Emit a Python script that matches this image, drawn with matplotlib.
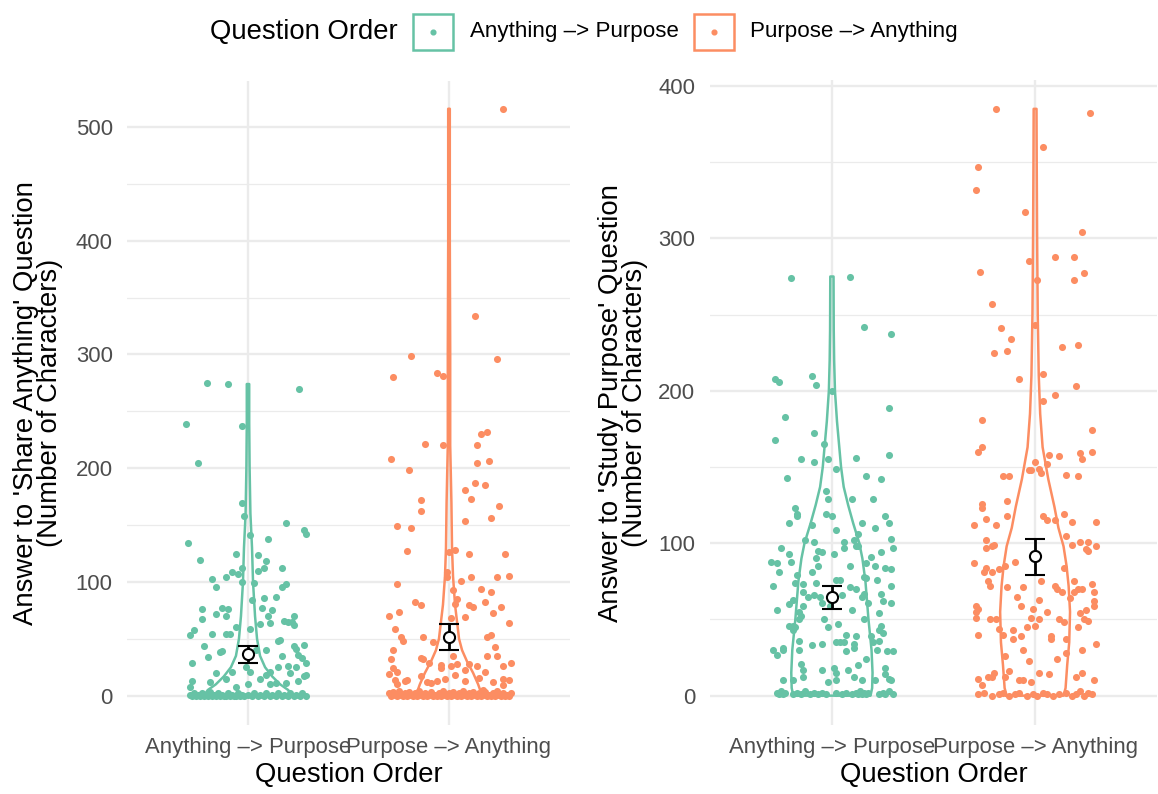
import numpy as np
import matplotlib
matplotlib.use('Agg')
import matplotlib.pyplot as plt
from matplotlib.patches import Rectangle
from matplotlib.lines import Line2D

plt.rcParams['font.family'] = ['Liberation Sans', 'DejaVu Sans']

GREEN = '#66C2A5'
ORANGE = '#FC8D62'
groups = ['Anything \u2013> Purpose', 'Purpose \u2013> Anything']

# jittered answers, (horizontal jitter, characters)
share_ap = [(-0.205, 275), (-0.10, 274), (0.255, 270), (-0.31, 239), (-0.03, 237), (-0.25, 205),
            (-0.03, 169), (-0.02, 158), (0.19, 152), (0.28, 146), (0.29, 142), (0.01, 141),
            (0.10, 138), (-0.30, 134), (-0.24, 119), (-0.06, 125), (0.05, 124), (0.09, 118),
            (0.17, 112), (-0.08, 109), (-0.05, 107), (-0.03, 112), (0.05, 110), (0.08, 112),
            (-0.18, 103), (-0.11, 104), (-0.16, 96), (-0.03, 100), (0.03, 99), (0.17, 96),
            (0.19, 98), (0.08, 86), (0.14, 87), (0.02, 84), (-0.23, 76), (-0.13, 77), (-0.10, 76),
            (-0.16, 72), (-0.11, 70), (0.07, 77), (0.12, 75), (0.10, 70), (-0.23, 67), (0.18, 66),
            (0.20, 65), (0.23, 70), (0.22, 65), (0.23, 62), (0.11, 64), (0.06, 63), (-0.27, 58),
            (-0.29, 53), (-0.18, 54), (-0.11, 54), (-0.09, 54), (-0.06, 60), (0.01, 59), (-0.22, 44),
            (-0.13, 39), (-0.14, 38), (-0.20, 34), (-0.28, 29), (-0.08, 21), (-0.16, 20), (0.04, 40),
            (0.09, 40), (0.15, 48), (0.16, 49), (0.17, 35), (0.23, 44), (0.24, 41), (0.28, 45),
            (0.25, 36), (0.27, 33), (0.29, 29), (0.24, 25), (0.15, 25), (0.11, 21), (0.09, 18),
            (0.20, 26), (0.29, 18), (0.28, 17), (0.21, 20), (0.25, 13), (0.19, 11), (0.14, 11),
            (0.11, 10), (0.06, 15), (0.01, 21), (-0.01, 25), (0.00, 10), (-0.06, 8), (-0.11, 15),
            (-0.19, 12), (-0.28, 13), (-0.29, 8),
            (-0.29, 1), (-0.28, 0), (-0.27, 2), (-0.26, 0), (-0.25, 1), (-0.24, 0), (-0.23, 2),
            (-0.22, 0), (-0.21, 1), (-0.20, 0), (-0.19, 3), (-0.18, 0), (-0.17, 1), (-0.16, 0),
            (-0.15, 2), (-0.14, 0), (-0.13, 1), (-0.12, 0), (-0.11, 0), (-0.10, 2), (-0.09, 0),
            (-0.08, 1), (-0.07, 0), (-0.06, 0), (-0.05, 2), (-0.04, 0), (-0.03, 1), (-0.02, 0),
            (0.00, 1), (0.02, 0), (0.03, 2), (0.05, 0), (0.06, 1), (0.08, 0), (0.09, 2), (0.11, 0),
            (0.12, 1), (0.14, 0), (0.15, 2), (0.17, 0), (0.18, 1), (0.20, 0), (0.21, 2), (0.23, 0),
            (0.24, 1), (0.26, 0), (0.27, 2), (0.29, 0)]

share_pa = [(0.27, 516), (0.13, 334), (-0.19, 299), (-0.28, 280), (-0.06, 284), (-0.03, 281),
            (0.24, 296), (0.16, 230), (0.19, 232), (-0.12, 221), (-0.03, 220), (0.14, 220),
            (-0.29, 208), (0.14, 205), (0.20, 206), (-0.20, 198), (0.13, 187), (0.18, 185),
            (0.08, 181), (-0.14, 172), (0.11, 173), (0.25, 167), (-0.14, 162), (0.21, 156),
            (0.08, 154), (-0.26, 149), (-0.19, 147), (-0.21, 127), (0.00, 126), (0.03, 128),
            (0.10, 125), (0.28, 125), (-0.01, 109), (-0.01, 104), (0.06, 101), (0.11, 104),
            (0.24, 104), (0.30, 105), (-0.26, 98), (0.16, 94), (0.21, 91), (0.02, 93), (0.04, 85),
            (-0.17, 82), (-0.14, 80), (0.03, 81), (0.10, 80), (0.12, 78), (0.18, 82), (0.26, 78),
            (-0.25, 74), (-0.30, 70), (0.22, 73), (0.08, 69), (0.01, 68), (0.30, 64), (-0.27, 59),
            (-0.24, 52), (-0.23, 48), (-0.13, 52), (-0.08, 47), (0.19, 52), (0.21, 53), (0.23, 43),
            (-0.28, 40), (-0.29, 32), (-0.14, 33), (-0.13, 32), (-0.10, 29), (0.02, 35), (0.19, 35),
            (0.24, 35), (0.31, 29), (0.27, 26), (-0.28, 24), (-0.26, 21), (-0.30, 19), (-0.04, 27),
            (-0.04, 24), (0.01, 26), (0.04, 28), (0.08, 23), (0.10, 28), (0.14, 26), (0.03, 18),
            (0.08, 13), (0.18, 21), (0.15, 16), (-0.14, 17), (-0.11, 12), (-0.09, 11), (-0.06, 13),
            (-0.02, 15), (-0.22, 13), (-0.21, 14), (-0.27, 14), (-0.26, 10), (0.22, 12), (0.27, 15),
            (0.30, 14), (0.27, 9), (0.17, 5),
            (-0.30, 2), (-0.29, 0), (-0.28, 3), (-0.27, 1), (-0.26, 0), (-0.25, 4), (-0.24, 1),
            (-0.23, 0), (-0.22, 2), (-0.21, 0), (-0.20, 3), (-0.19, 1), (-0.18, 0), (-0.17, 2),
            (-0.16, 0), (-0.15, 4), (-0.14, 1), (-0.13, 0), (-0.12, 2), (-0.11, 0), (-0.10, 1),
            (-0.09, 3), (-0.08, 0), (-0.07, 1), (-0.06, 0), (-0.05, 2), (-0.04, 0), (-0.03, 4),
            (-0.02, 1), (-0.01, 0), (0.00, 2), (0.01, 0), (0.02, 3), (0.03, 1), (0.04, 0),
            (0.05, 2), (0.06, 0), (0.07, 4), (0.08, 1), (0.09, 0), (0.10, 2), (0.11, 0), (0.12, 3),
            (0.13, 1), (0.14, 0), (0.15, 2), (0.16, 0), (0.17, 1), (0.18, 3), (0.19, 0), (0.20, 1),
            (0.21, 0), (0.22, 2), (0.23, 0), (0.24, 4), (0.25, 1), (0.26, 0), (0.27, 2), (0.28, 0),
            (0.29, 1), (0.30, 0), (0.31, 2)]

purpose_ap = [(-0.20, 274), (0.09, 275), (0.16, 242), (0.29, 237), (-0.28, 208), (-0.26, 206),
              (-0.10, 210), (-0.08, 204), (0.00, 200), (0.28, 189), (-0.23, 183), (-0.09, 172),
              (-0.28, 168), (-0.04, 165), (-0.15, 155), (-0.09, 153), (-0.02, 155), (0.12, 156),
              (0.28, 158), (0.02, 149), (-0.22, 143), (0.17, 144), (0.24, 142), (-0.03, 134),
              (-0.02, 129), (0.10, 129), (0.20, 129), (-0.18, 123), (-0.17, 119), (-0.17, 118),
              (-0.21, 113), (-0.03, 119), (0.00, 118), (-0.10, 112), (0.02, 109), (0.15, 113),
              (0.21, 110), (0.26, 118), (0.28, 113), (-0.13, 102), (-0.09, 101), (0.06, 101),
              (0.06, 97), (0.11, 102), (0.13, 106), (0.12, 98), (0.13, 98), (0.29, 103), (0.30, 97),
              (-0.25, 97), (-0.21, 93), (-0.07, 95), (-0.05, 94), (0.01, 93), (-0.08, 90), (-0.20, 88),
              (-0.30, 88), (-0.27, 87), (-0.26, 81), (-0.07, 85), (-0.10, 81), (0.09, 85), (0.17, 87),
              (0.19, 91), (0.21, 85), (0.24, 94), (0.26, 84), (0.29, 83), (-0.29, 72), (-0.17, 79),
              (-0.18, 74), (-0.14, 73), (-0.08, 74), (0.02, 76), (0.04, 76), (0.09, 71), (0.12, 70),
              (0.16, 78), (0.17, 77), (0.22, 76), (0.24, 67), (0.29, 72), (-0.14, 68), (-0.12, 65),
              (-0.09, 66), (-0.06, 65), (-0.05, 61), (0.05, 66), (0.15, 65), (0.16, 67), (0.18, 61),
              (0.25, 62), (0.29, 61), (-0.19, 63), (-0.21, 60), (-0.14, 59), (-0.27, 56), (-0.01, 59),
              (0.10, 56), (-0.16, 55), (-0.15, 52), (-0.16, 50), (-0.04, 50), (0.23, 54), (0.16, 50),
              (-0.21, 46), (-0.19, 46), (-0.18, 45), (-0.19, 43), (-0.02, 45), (0.03, 47), (0.24, 46),
              (0.23, 43), (0.25, 41), (0.07, 40), (0.12, 39), (0.19, 39), (-0.16, 36), (-0.10, 33),
              (-0.05, 34), (0.02, 35), (0.04, 35), (0.06, 35), (0.11, 34), (0.11, 31), (0.07, 29),
              (0.20, 35), (0.23, 36), (0.22, 30), (-0.29, 30), (-0.27, 27), (-0.24, 31), (-0.24, 30),
              (-0.16, 30), (0.27, 29), (0.30, 29), (0.17, 24), (-0.15, 21), (0.13, 20), (-0.14, 17),
              (-0.05, 17), (0.01, 18), (0.02, 15), (0.08, 17), (0.26, 18), (0.26, 14), (0.28, 11),
              (0.29, 10), (-0.24, 10), (-0.19, 10), (-0.14, 12), (-0.02, 9), (0.02, 10), (0.11, 12),
              (0.15, 10), (0.21, 10),
              (-0.27, 2), (-0.26, 1), (-0.25, 3), (-0.24, 1), (-0.23, 2), (-0.19, 1), (-0.17, 2),
              (-0.15, 1), (-0.13, 3), (-0.11, 1), (-0.09, 2), (-0.07, 1), (-0.05, 2), (-0.03, 1),
              (0.02, 2), (0.05, 1), (0.07, 2), (0.10, 1), (0.12, 2), (0.13, 1), (0.14, 3), (0.15, 1),
              (0.16, 2), (0.17, 1), (0.18, 2), (0.23, 1), (0.25, 2), (0.26, 1), (0.28, 3), (0.30, 1)]

purpose_pa = [(-0.19, 385), (0.27, 382), (0.04, 360), (-0.28, 347), (-0.29, 332), (-0.05, 317),
              (0.23, 304), (0.10, 288), (0.19, 288), (-0.03, 285), (-0.27, 278), (0.24, 277),
              (0.01, 273), (0.19, 273), (-0.21, 257), (0.00, 243), (-0.17, 241), (-0.12, 234),
              (-0.20, 225), (-0.14, 226), (0.13, 229), (0.21, 230), (0.04, 211), (-0.08, 208),
              (0.20, 203), (0.10, 197), (0.04, 193), (-0.26, 181), (0.28, 174), (-0.28, 160),
              (-0.26, 163), (0.07, 158), (0.12, 157), (0.22, 159), (0.28, 160), (0.23, 155),
              (0.00, 153), (-0.03, 148), (-0.02, 148), (0.02, 149), (0.03, 146), (0.06, 152),
              (-0.16, 144), (-0.13, 144), (0.15, 145), (0.21, 144), (-0.26, 126), (-0.26, 123),
              (-0.14, 128), (-0.30, 112), (-0.24, 116), (-0.19, 112), (-0.14, 118), (0.04, 118),
              (0.06, 115), (0.10, 115), (0.14, 119), (0.18, 114), (0.30, 114), (0.15, 105),
              (-0.24, 102), (-0.24, 97), (-0.21, 98), (-0.20, 99), (0.18, 99), (0.22, 101),
              (0.26, 101), (0.25, 96), (0.26, 95), (0.30, 98), (-0.30, 87), (-0.24, 84), (-0.25, 81),
              (-0.21, 81), (-0.18, 83), (-0.10, 88), (-0.15, 85), (0.14, 84), (0.03, 75), (-0.23, 75),
              (-0.22, 72), (-0.14, 71), (-0.06, 71), (0.10, 72), (0.11, 70), (0.13, 68), (0.19, 75),
              (0.21, 70), (0.23, 70), (0.28, 73), (0.29, 68), (0.29, 62), (0.29, 59), (0.17, 64),
              (0.19, 68), (-0.09, 65), (0.02, 63), (-0.07, 59), (-0.01, 57), (0.06, 55), (-0.29, 59),
              (-0.28, 57), (-0.29, 55), (-0.29, 51), (-0.22, 50), (-0.19, 50), (-0.02, 51), (0.02, 50),
              (0.12, 50), (0.14, 48), (0.22, 54), (0.25, 56), (0.24, 50), (0.26, 49), (0.21, 45),
              (-0.04, 45), (0.00, 46), (-0.18, 44), (-0.16, 40), (-0.11, 43), (-0.28, 40), (-0.07, 39),
              (0.08, 37), (0.08, 39), (0.15, 37), (0.30, 34), (-0.11, 37), (0.15, 28), (0.11, 24),
              (0.23, 30), (-0.06, 30), (-0.03, 23), (-0.15, 26), (-0.13, 16), (0.02, 15), (0.07, 14),
              (0.23, 15), (0.29, 10), (-0.28, 11), (-0.26, 7), (-0.20, 15), (-0.21, 12), (-0.23, 12),
              (-0.15, 12), (-0.08, 10), (-0.06, 10), (-0.02, 9), (0.20, 12), (0.22, 3), (0.26, 2),
              (0.15, 2), (-0.25, 2), (-0.21, 0),
              (-0.28, 1), (-0.18, 1), (-0.16, 2), (-0.13, 0), (-0.10, 1), (-0.08, 2), (-0.04, 0),
              (-0.01, 1), (0.01, 0), (0.04, 2), (0.06, 1), (0.09, 0), (0.12, 1), (0.18, 0), (0.20, 1),
              (0.24, 0), (0.28, 1)]

# violin outlines: value levels and half widths (category units)
vio_share_ap_y = [0, 5, 10, 17, 25, 35, 50, 70, 100, 130, 160, 200, 240, 274]
vio_share_ap_w = [0.22, 0.20, 0.16, 0.12, 0.085, 0.06, 0.045, 0.035, 0.025, 0.02, 0.012, 0.008, 0.006, 0.006]
vio_share_pa_y = [0, 5, 10, 20, 30, 40, 50, 65, 80, 105, 130, 170, 220, 300, 400, 516]
vio_share_pa_w = [0.16, 0.155, 0.145, 0.12, 0.09, 0.065, 0.05, 0.04, 0.03, 0.02, 0.015, 0.012, 0.006, 0.006, 0.004, 0.004]
vio_purpose_ap_y = [0, 5, 15, 30, 50, 75, 90, 100, 113, 125, 137, 150, 165, 180, 200, 220, 240, 275]
vio_purpose_ap_w = [0.19, 0.198, 0.2, 0.195, 0.18, 0.165, 0.15, 0.135, 0.105, 0.08, 0.058, 0.045, 0.035, 0.025, 0.015, 0.011, 0.009, 0.008]
vio_purpose_pa_y = [0, 5, 20, 35, 55, 72, 85, 98, 110, 124, 142, 163, 185, 210, 250, 300, 350, 385]
vio_purpose_pa_w = [0.14, 0.15, 0.158, 0.168, 0.172, 0.165, 0.155, 0.14, 0.115, 0.095, 0.065, 0.037, 0.025, 0.018, 0.013, 0.01, 0.008, 0.007]

# mean and confidence interval per group
share_mean = [36.6, 51.6]
share_lo = [29, 40.4]
share_hi = [44, 63]
purpose_mean = [64.7, 91.3]
purpose_lo = [56.8, 79.3]
purpose_hi = [72, 103]

W, H = 1158, 794
fig = plt.figure(figsize=(W / 100, H / 100), dpi=100)
ax1 = fig.add_axes([127.4 / W, 1 - 725 / H, (569.6 - 127.4) / W, (725 - 80.6) / H])
ax2 = fig.add_axes([710 / W, 1 - 725 / H, (1157 - 710) / W, (725 - 79.5) / H])


def draw_violin(ax, pos, ys, ws, color):
    ys = np.array(ys, dtype=float)
    ws = np.array(ws, dtype=float)
    xs = np.concatenate([pos - ws, (pos + ws)[::-1], [pos - ws[0]]])
    yy = np.concatenate([ys, ys[::-1], [ys[0]]])
    ax.plot(xs, yy, color=color, lw=1.8, zorder=2, solid_joinstyle='round')


def draw_panel(ax, pts, vios, means, los, his, ylim, ymaj, ymin):
    colors = [GREEN, ORANGE]
    for i in range(2):
        pos = i + 1
        draw_violin(ax, pos, vios[i][0], vios[i][1], colors[i])
        dx = np.array([p[0] for p in pts[i]])
        vals = np.array([p[1] for p in pts[i]])
        ax.scatter(pos + dx, vals, s=26, color=colors[i], lw=0, zorder=3)
        ax.errorbar([pos], [means[i]], yerr=[[means[i] - los[i]], [his[i] - means[i]]],
                    fmt='o', mfc='white', mec='black', ms=8, mew=1.5, ecolor='black',
                    elinewidth=2, capsize=7.5, capthick=2, zorder=5)
    ax.set_xlim(0.4, 2.6)
    ax.set_ylim(*ylim)
    ax.set_xticks([1, 2])
    ax.set_xticklabels(groups)
    ax.set_yticks(ymaj)
    ax.set_yticks(ymin, minor=True)
    ax.grid(which='major', color='#EBEBEB', lw=1.7)
    ax.grid(which='minor', axis='y', color='#EBEBEB', lw=0.9)
    ax.set_axisbelow(True)
    for s in ax.spines.values():
        s.set_visible(False)
    ax.tick_params(which='both', length=0, labelsize=15.9, labelcolor='#4D4D4D')
    ax.tick_params(axis='y', pad=10.5)
    ax.tick_params(axis='x', pad=9)


draw_panel(ax1, [share_ap, share_pa],
           [(vio_share_ap_y, vio_share_ap_w), (vio_share_pa_y, vio_share_pa_w)],
           share_mean, share_lo, share_hi, (-25.75, 540.75),
           [0, 100, 200, 300, 400, 500], [50, 150, 250, 350, 450])
draw_panel(ax2, [purpose_ap, purpose_pa],
           [(vio_purpose_ap_y, vio_purpose_ap_w), (vio_purpose_pa_y, vio_purpose_pa_w)],
           purpose_mean, purpose_lo, purpose_hi, (-19.25, 404.25),
           [0, 100, 200, 300, 400], [50, 150, 250, 350])

# axis titles
fig.text(348.5 / W, 1 - 775 / H, 'Question Order', ha='center', va='center', fontsize=19.8)
fig.text(933.5 / W, 1 - 775 / H, 'Question Order', ha='center', va='center', fontsize=19.8)
fig.text(38.5 / W, 1 - 403 / H, "Answer to 'Share Anything' Question\n(Number of Characters)",
         rotation=90, ha='center', va='center', multialignment='center', fontsize=19.8, linespacing=0.9)
fig.text(623.5 / W, 1 - 403 / H, "Answer to 'Study Purpose' Question\n(Number of Characters)",
         rotation=90, ha='center', va='center', multialignment='center', fontsize=19.8, linespacing=0.9)

# legend on top
ly = 1 - 32 / H
fig.text(210 / W, ly, 'Question Order', ha='left', va='center', fontsize=19.8)
for key_x, txt_x, col, label in [(413, 470, GREEN, groups[0]), (694, 750, ORANGE, groups[1])]:
    fig.patches.append(Rectangle((key_x / W, 1 - 50 / H), 40 / W, 36 / H, transform=fig.transFigure,
                                 facecolor='white', edgecolor=col, lw=1.8))
    fig.lines.append(Line2D([(key_x + 20) / W], [ly], transform=fig.transFigure, marker='o',
                            ms=3.4, color=col, lw=0))
    fig.text(txt_x / W, ly, label, ha='left', va='center', fontsize=16.1)

fig.savefig('out.png', dpi=100)
